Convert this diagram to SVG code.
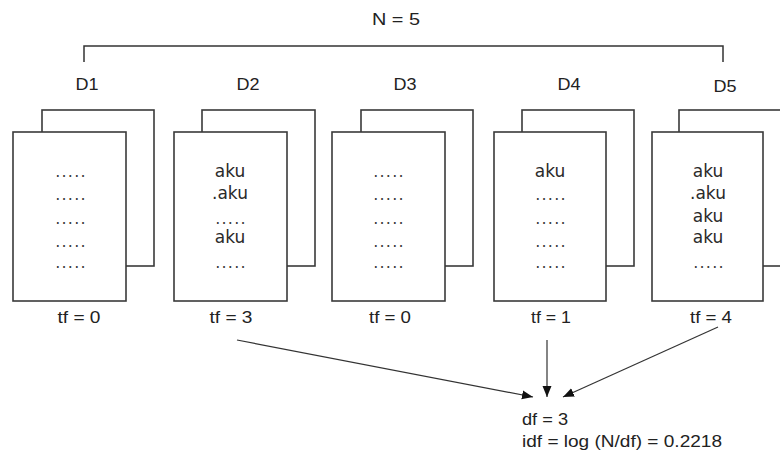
<svg xmlns="http://www.w3.org/2000/svg" width="780" height="459" viewBox="0 0 780 459">
<defs>
<marker id="ah" markerUnits="userSpaceOnUse" markerWidth="12" markerHeight="10" refX="11" refY="5" orient="auto">
<path d="M0,0.5 L11,5 L0,9.5 Z" fill="#111"/>
</marker>
<style>
.pg{fill:#fff;stroke:#3a3a3a;stroke-width:1.6}
.lbl{font-family:"Liberation Sans",Arial,sans-serif;font-size:16px;fill:#222;text-anchor:middle}
.lbl.st{text-anchor:start}
.in{font-family:"DejaVu Sans",sans-serif;font-size:17px;fill:#2a2a2a;text-anchor:middle}
.dt{font-family:"DejaVu Sans",sans-serif;font-size:16px;fill:#3c3c3c;text-anchor:middle;letter-spacing:1.2px}
.cn{fill:none;stroke:#333;stroke-width:1.2}
</style>
</defs>
<rect width="780" height="459" fill="#fff"/>
<g id="bracket">
<text class="lbl" x="396" y="25" font-size="17" textLength="48" lengthAdjust="spacingAndGlyphs">N = 5</text>
<path d="M84,62 V46 H723 V62" fill="none" stroke="#333" stroke-width="1.5"/>
</g>
<g id="D1">
<text class="lbl" x="87" y="90" textLength="23" lengthAdjust="spacingAndGlyphs">D1</text>
<rect class="pg" x="42" y="110" width="112" height="156"/>
<rect class="pg" x="13" y="132" width="113" height="169"/>
<text class="dt" x="71" y="177">.....</text>
<text class="dt" x="71" y="200">.....</text>
<text class="dt" x="71" y="224">.....</text>
<text class="dt" x="71" y="247">.....</text>
<text class="dt" x="71" y="268">.....</text>
<text class="lbl" x="79" y="323" textLength="43" lengthAdjust="spacingAndGlyphs">tf = 0</text>
</g>
<g id="D2">
<text class="lbl" x="248" y="90" textLength="23" lengthAdjust="spacingAndGlyphs">D2</text>
<rect class="pg" x="202" y="110" width="113" height="156"/>
<rect class="pg" x="174" y="132" width="113" height="169"/>
<text class="in" x="230" y="177">aku</text>
<text class="in" x="230" y="199">.aku</text>
<text class="dt" x="231" y="224">.....</text>
<text class="in" x="230" y="243">aku</text>
<text class="dt" x="231" y="268">.....</text>
<text class="lbl" x="231" y="323" textLength="43" lengthAdjust="spacingAndGlyphs">tf = 3</text>
</g>
<g id="D3">
<text class="lbl" x="405" y="90" textLength="23" lengthAdjust="spacingAndGlyphs">D3</text>
<rect class="pg" x="361" y="110" width="112" height="156"/>
<rect class="pg" x="332" y="132" width="113" height="169"/>
<text class="dt" x="389" y="177">.....</text>
<text class="dt" x="389" y="200">.....</text>
<text class="dt" x="389" y="224">.....</text>
<text class="dt" x="389" y="247">.....</text>
<text class="dt" x="389" y="268">.....</text>
<text class="lbl" x="390" y="323" textLength="42" lengthAdjust="spacingAndGlyphs">tf = 0</text>
</g>
<g id="D4">
<text class="lbl" x="569" y="90" textLength="23" lengthAdjust="spacingAndGlyphs">D4</text>
<rect class="pg" x="522" y="110" width="112" height="156"/>
<rect class="pg" x="494" y="132" width="112" height="169"/>
<text class="in" x="550" y="177">aku</text>
<text class="dt" x="551" y="200">.....</text>
<text class="dt" x="551" y="224">.....</text>
<text class="dt" x="551" y="247">.....</text>
<text class="dt" x="551" y="268">.....</text>
<text class="lbl" x="551" y="323" textLength="40" lengthAdjust="spacingAndGlyphs">tf = 1</text>
</g>
<g id="D5">
<text class="lbl" x="725" y="92" textLength="23" lengthAdjust="spacingAndGlyphs">D5</text>
<rect class="pg" x="679" y="110" width="112" height="156"/>
<rect class="pg" x="652" y="132" width="111" height="169"/>
<text class="in" x="708" y="177">aku</text>
<text class="in" x="708" y="199">.aku</text>
<text class="in" x="708" y="222">aku</text>
<text class="in" x="708" y="243">aku</text>
<text class="dt" x="709" y="268">.....</text>
<text class="lbl" x="711" y="323" textLength="42" lengthAdjust="spacingAndGlyphs">tf = 4</text>
</g>
<g id="connectors">
<line class="cn" x1="237" y1="340" x2="533" y2="397" marker-end="url(#ah)"/>
<line class="cn" x1="547" y1="340" x2="547" y2="397" marker-end="url(#ah)"/>
<line class="cn" x1="718" y1="327" x2="563" y2="397" marker-end="url(#ah)"/>
</g>
<g id="result">
<text class="lbl st" x="522" y="425" textLength="46" lengthAdjust="spacingAndGlyphs">df = 3</text>
<text class="lbl st" x="522" y="447" textLength="200" lengthAdjust="spacingAndGlyphs">idf = log (N/df) = 0.2218</text>
</g>
</svg>
